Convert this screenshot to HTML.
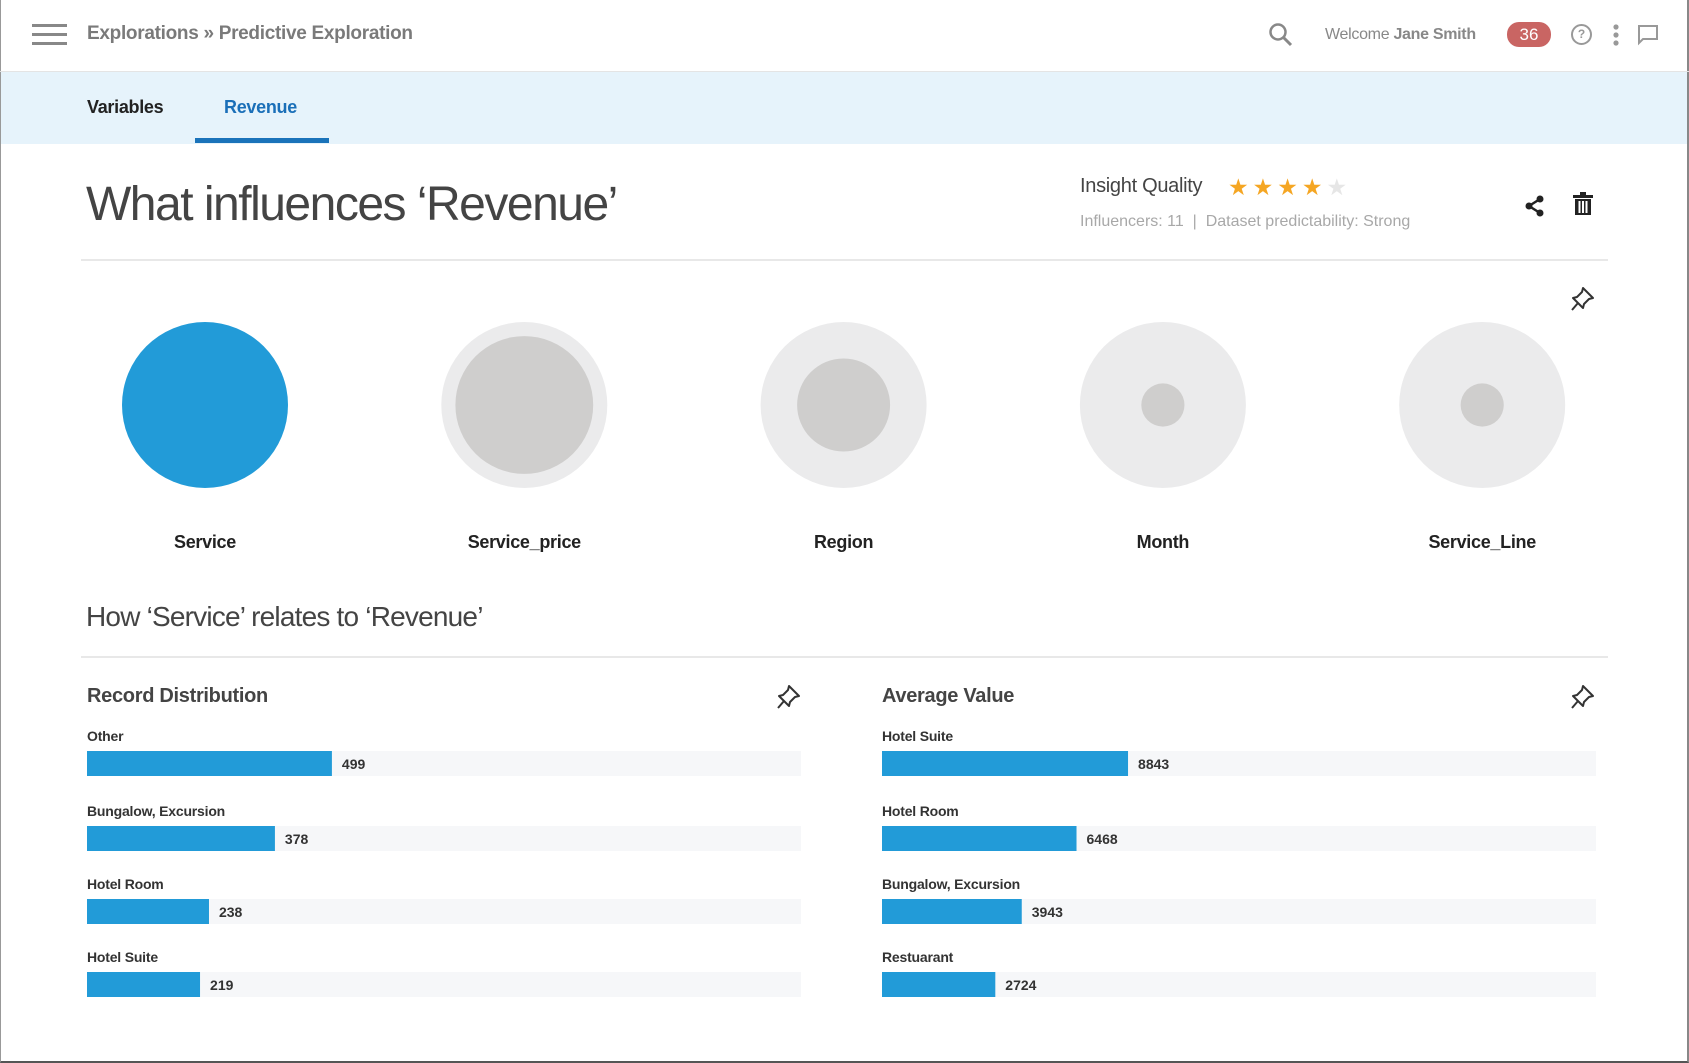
<!DOCTYPE html>
<html><head><meta charset="utf-8">
<style>
*{margin:0;padding:0;box-sizing:border-box}
body{width:1689px;height:1063px;position:relative;background:#fff;font-family:"Liberation Sans",sans-serif;overflow:hidden}
.a{position:absolute;white-space:nowrap}
.b{font-weight:bold}
</style></head><body>
<div class="a" style="left:0;top:0;width:1689px;height:1063px;border-left:1px solid #999;border-right:2px solid #888;border-bottom:2px solid #555"></div>
<!-- header -->
<div class="a" style="left:32px;top:24px;width:35px;height:22px">
 <div style="height:3px;background:#888;margin-bottom:6px"></div><div style="height:3px;background:#888;margin-bottom:6px"></div><div style="height:3px;background:#888"></div></div>
<div class="a b" style="left:87px;top:23px;font-size:19px;color:#7a7a7a;letter-spacing:-0.3px">Explorations » Predictive Exploration</div>
<svg class="a" style="left:1268px;top:22px" width="26" height="26"><circle cx="10" cy="10" r="7.5" fill="none" stroke="#888" stroke-width="2.5"/><line x1="15.5" y1="15.5" x2="23" y2="23" stroke="#888" stroke-width="3"/></svg>
<div class="a" style="left:1325px;top:26px;font-size:16px;color:#888;letter-spacing:-0.3px">Welcome <b>Jane Smith</b></div>
<div class="a" style="left:1507px;top:22px;width:44px;height:25px;border-radius:12px;background:#c96563;color:#fff;font-size:17px;text-align:center;line-height:25px">36</div>
<div class="a" style="left:1571px;top:24px;width:21px;height:21px;border:2px solid #999;border-radius:50%;color:#999;font-size:12px;font-weight:bold;text-align:center;line-height:17px">?</div>
<svg class="a" style="left:1611px;top:23px" width="10" height="24"><circle cx="5" cy="4" r="2.6" fill="#999"/><circle cx="5" cy="12" r="2.6" fill="#999"/><circle cx="5" cy="20" r="2.6" fill="#999"/></svg>
<svg class="a" style="left:1636px;top:24px" width="24" height="22"><path d="M2 2H21V15H7L3 19V2Z" fill="none" stroke="#999" stroke-width="2"/></svg>
<div class="a" style="left:0;top:71px;width:1689px;height:1px;background:#e4e4e4"></div>
<!-- tabs -->
<div class="a" style="left:1px;top:72px;width:1686px;height:72px;background:#e6f3fb"></div>
<div class="a b" style="left:87px;top:97px;font-size:18px;color:#222;letter-spacing:-0.3px">Variables</div>
<div class="a b" style="left:224px;top:97px;font-size:18px;color:#1a6fb8;letter-spacing:-0.3px">Revenue</div>
<div class="a" style="left:195px;top:138px;width:134px;height:5px;background:#1a73ba"></div>
<!-- title -->
<div class="a" style="left:86px;top:177px;font-size:48px;color:#444;letter-spacing:-1.5px">What influences ‘Revenue’</div>
<div class="a" style="left:1080px;top:175px;font-size:20px;color:#444;letter-spacing:-0.3px">Insight Quality</div>
<div class="a" style="left:1228px;top:174px;font-size:23px;letter-spacing:4px;color:#f5a623">★★★★<span style="color:#e6e6e6">★</span></div>
<div class="a" style="left:1080px;top:213px;font-size:16px;color:#a8a8a8">Influencers: 11 &nbsp;| &nbsp;Dataset predictability: Strong</div>
<svg class="a" style="left:1524px;top:194px" width="22" height="24"><line x1="16" y1="5" x2="5" y2="12" stroke="#222" stroke-width="2.5"/><line x1="16" y1="19" x2="5" y2="12" stroke="#222" stroke-width="2.5"/><circle cx="16" cy="5" r="3.5" fill="#222"/><circle cx="5" cy="12" r="3.5" fill="#222"/><circle cx="16" cy="19" r="3.5" fill="#222"/></svg>
<svg class="a" style="left:1573px;top:192px" width="20" height="24"><rect x="0" y="3" width="20" height="3" fill="#222"/><rect x="7" y="0" width="6" height="4" fill="#222"/><rect x="2" y="7" width="16" height="16" fill="#222"/><rect x="5.5" y="9" width="2" height="12" fill="#fff"/><rect x="9" y="9" width="2" height="12" fill="#fff"/><rect x="12.5" y="9" width="2" height="12" fill="#fff"/></svg>
<div class="a" style="left:81px;top:259px;width:1527px;height:2px;background:#e8e8e8"></div>
<!-- influencer circles -->
<svg class="a" style="left:1569px;top:285px" width="28" height="28"><path d="M14 3L24 13L20 14L15 19L14 23L4 13L8 12L13 7Z" fill="none" stroke="#333" stroke-width="2" stroke-linejoin="round"/><line x1="9" y1="18" x2="3" y2="25" stroke="#333" stroke-width="2"/></svg>
<svg class="a" id="circles" style="left:0;top:300px" width="1689" height="260"></svg>
<div class="a" style="left:86px;top:601px;font-size:28px;color:#444;letter-spacing:-0.8px">How ‘Service’ relates to ‘Revenue’</div>
<div class="a" style="left:81px;top:656px;width:1527px;height:2px;background:#e8e8e8"></div>
<div class="a b" style="left:87px;top:685px;font-size:20px;color:#444;letter-spacing:-0.3px">Record Distribution</div>
<div class="a b" style="left:882px;top:685px;font-size:20px;color:#444;letter-spacing:-0.3px">Average Value</div>
<svg class="a" style="left:775px;top:683px" width="28" height="28"><path d="M14 3L24 13L20 14L15 19L14 23L4 13L8 12L13 7Z" fill="none" stroke="#333" stroke-width="2" stroke-linejoin="round"/><line x1="9" y1="18" x2="3" y2="25" stroke="#333" stroke-width="2"/></svg>
<svg class="a" style="left:1569px;top:683px" width="28" height="28"><path d="M14 3L24 13L20 14L15 19L14 23L4 13L8 12L13 7Z" fill="none" stroke="#333" stroke-width="2" stroke-linejoin="round"/><line x1="9" y1="18" x2="3" y2="25" stroke="#333" stroke-width="2"/></svg>
<svg class="a" id="charts" style="left:0;top:0" width="1689" height="1063"></svg>
<script>
const influencers=["Service","Service_price","Region","Month","Service_Line"];
const strength=[1,0.83,0.56,0.26,0.26];
const recCats=["Other","Bungalow, Excursion","Hotel Room","Hotel Suite"];
const recVals=[499,378,238,219];
const avgCats=["Hotel Suite","Hotel Room","Bungalow, Excursion","Restuarant"];
const avgVals=[8843,6468,3943,2724];
const NS="http://www.w3.org/2000/svg";
function mk(p,t,a){const e=document.createElementNS(NS,t);for(const k in a)e.setAttribute(k,a[k]);p.appendChild(e);return e;}
const cs=document.getElementById('circles');
const cx0=205,cdx=319.3,cy=105,R=83;
influencers.forEach((n,i)=>{
 const x=cx0+i*cdx;
 if(strength[i]>=1){
  const c=mk(cs,'circle',{cx:x,cy:cy,r:R,fill:'#229bd8'});
  
  
 }else{
  const o=mk(cs,'circle',{cx:x,cy:cy,r:R,fill:'#ebebec'});
  
  
  const c=mk(cs,'circle',{cx:x,cy:cy,r:R*strength[i],fill:'#cfcecd'});
  
  
 }
 const t=mk(cs,'text',{x:x,y:248,'text-anchor':'middle','font-size':18,'font-weight':'bold',fill:'#222','letter-spacing':'-0.3','font-family':'Liberation Sans, sans-serif'});
 t.textContent=n;
 
 
});
const ch=document.getElementById('charts');
function chart(x0,cats,vals,minV,maxV,key){
 const W=714,rowY=[751,826,899,972],H=25;
 const sx=v=>(v-minV)/(maxV-minV)*W;
 cats.forEach((c,i)=>{
  const y=rowY[i];
  const l=mk(ch,'text',{x:x0,y:y-10,'font-size':14,'font-weight':'bold',fill:'#333','letter-spacing':'-0.2','font-family':'Liberation Sans, sans-serif'});
  l.textContent=c;
  
  
  const tr=mk(ch,'rect',{x:x0,y:y,width:W,height:H,fill:'#f6f7f9'});
  
  
  const w=sx(vals[i]);
  const b=mk(ch,'rect',{x:x0,y:y,width:w,height:H,fill:'#229bd8'});
  
  
  const v=mk(ch,'text',{x:x0+w+10,y:y+18,'font-size':14,'font-weight':'bold',fill:'#333','font-family':'Liberation Sans, sans-serif'});
  v.textContent=vals[i];
  
  
 });
}
chart(87,recCats,recVals,-21,1495,'record');
chart(882,avgCats,avgVals,-2500,30418,'average');
</script>
</body></html>
